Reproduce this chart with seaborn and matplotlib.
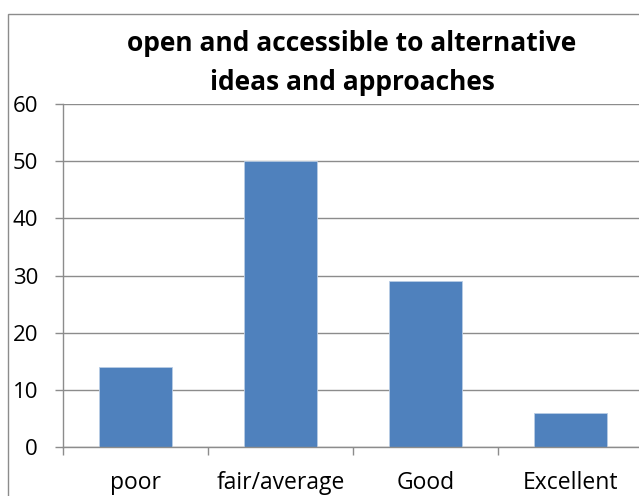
import matplotlib
matplotlib.use("Agg")
import matplotlib.pyplot as plt
import seaborn as sns
import pandas as pd
from matplotlib.patches import Rectangle

categories = ["poor", "fair/average", "Good", "Excellent"]
values = [14, 50, 29, 6]
title = "open and accessible to alternative\nideas and approaches"
yticks = [0, 10, 20, 30, 40, 50, 60]

sns.set_theme(style="white")
plt.rcParams['font.family'] = ['Open Sans', 'DejaVu Sans']

df = pd.DataFrame({"cat": categories, "val": values})

fig = plt.figure(figsize=(6.39, 4.96), dpi=100)
ax = fig.add_axes([63/639, 1-447/496, 580/639, 343/496])

sns.barplot(data=df, x="cat", y="val", color="#4F81BD", saturation=1,
            width=0.5, ax=ax, edgecolor="#B9CDE5", linewidth=0.6)

ax.set_ylim(0, 60)
ax.set_xlim(-0.5, 3.5)
ax.set_yticks(yticks)
ax.set_xticks([-0.5, 0.5, 1.5, 2.5, 3.5], minor=False)
ax.set_xticklabels([])
ax.set_xticks([0, 1, 2, 3], minor=True)
ax.set_xticklabels(categories, minor=True)
ax.set_xlabel("")
ax.set_ylabel("")

gc = "#8C8C8C"
ax.yaxis.grid(True, color=gc, linewidth=1.0)
ax.set_axisbelow(True)
for s in ["top", "right"]:
    ax.spines[s].set_visible(False)
for s in ["left", "bottom"]:
    ax.spines[s].set_color(gc)
    ax.spines[s].set_linewidth(1.0)

ax.tick_params(axis="y", which="major", direction="out", length=6, width=1,
               color=gc, labelsize=16, pad=12, left=True, labelcolor="black")
ax.tick_params(axis="x", which="major", direction="out", length=6, width=1,
               color=gc, bottom=True)
ax.tick_params(axis="x", which="minor", length=0, labelsize=16.5, pad=17,
               labelcolor="black")

fig.text(352/639, 1-63/496, title, ha="center", va="center",
         fontsize=19, fontweight="bold", linespacing=1.6, color="black")

fig.patches.append(Rectangle((8/639, -0.1), 1.2, 1-14/496+0.1,
                             transform=fig.transFigure, fill=False,
                             edgecolor=gc, linewidth=1.0))

fig.savefig("out.png", dpi=100, facecolor="white")
